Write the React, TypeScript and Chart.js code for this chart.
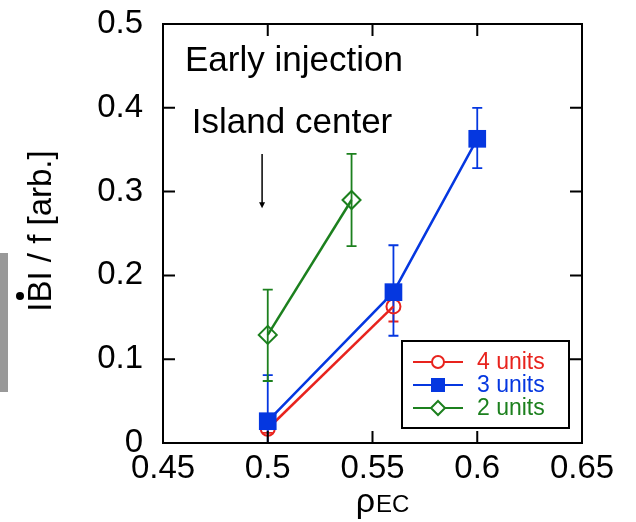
import React, { useEffect, useRef } from "react";
import { Chart, registerables } from "chart.js";

Chart.register(...registerables);

const FONT = "'Liberation Sans', Arial, Helvetica, sans-serif";

const xTicks = [0.45, 0.5, 0.55, 0.6, 0.65];
const yTicks = [0, 0.1, 0.2, 0.3, 0.4, 0.5];

// 4 units (red, open circles)
const rho4 = [0.5, 0.56];
const val4 = [0.017, 0.163];
const lo4 = [0.012, 0.145];
const hi4 = [0.022, 0.181];

// 3 units (blue, filled squares)
const rho3 = [0.5, 0.56, 0.6];
const val3 = [0.026, 0.18, 0.363];
const lo3 = [0.0, 0.128, 0.328];
const hi3 = [0.081, 0.236, 0.4];

// 2 units (green, open diamonds)
const rho2 = [0.5, 0.54];
const val2 = [0.129, 0.29];
const lo2 = [0.074, 0.235];
const hi2 = [0.183, 0.345];

const RED = "#e8231d";
const BLUE = "#0537e0";
const GREEN = "#1c801e";

const seriesLabels = ["4 units", "3 units", "2 units"];
const annotationTexts = ["Early injection", "Island center"];
const annotationPos = [
  { x: 0.5125, y: 0.455 },
  { x: 0.5116, y: 0.381 },
];
const arrowX = 0.4973;
const arrowFrom = 0.345;
const arrowTo = 0.28;

const yTitle = "IBI / f [arb.]";
const xTitleMain = "ρ";
const xTitleSub = "EC";

const toPts = (xs: number[], ys: number[]) => xs.map((x, i) => ({ x, y: ys[i] }));

const errorSets = [
  { xs: rho4, lo: lo4, hi: hi4, color: RED },
  { xs: rho3, lo: lo3, hi: hi3, color: BLUE },
  { xs: rho2, lo: lo2, hi: hi2, color: GREEN },
];

const decoPlugin = {
  id: "deco",
  beforeDatasetsDraw(chart: any) {
    const { ctx, chartArea: a, scales } = chart;
    const xs = scales.x, ys = scales.y;
    ctx.save();
    ctx.beginPath();
    ctx.rect(a.left, a.top, a.right - a.left, a.bottom - a.top);
    ctx.clip();
    errorSets.forEach((s) => {
      ctx.strokeStyle = s.color;
      ctx.lineWidth = 1.8;
      s.xs.forEach((xv, i) => {
        const px = xs.getPixelForValue(xv);
        const pl = ys.getPixelForValue(s.lo[i]);
        const ph = ys.getPixelForValue(s.hi[i]);
        ctx.beginPath();
        ctx.moveTo(px, pl);
        ctx.lineTo(px, ph);
        ctx.moveTo(px - 5, pl);
        ctx.lineTo(px + 5, pl);
        ctx.moveTo(px - 5, ph);
        ctx.lineTo(px + 5, ph);
        ctx.stroke();
      });
    });
    ctx.restore();
  },
  afterDatasetsDraw(chart: any) {
    const { ctx, chartArea: a, scales } = chart;
    const xs = scales.x, ys = scales.y;
    ctx.save();
    ctx.strokeStyle = "#000";
    ctx.lineWidth = 2;
    ctx.strokeRect(a.left, a.top, a.right - a.left, a.bottom - a.top);
    const tl = 12;
    ctx.beginPath();
    xTicks.forEach((v) => {
      const px = xs.getPixelForValue(v);
      ctx.moveTo(px, a.bottom);
      ctx.lineTo(px, a.bottom - tl);
      ctx.moveTo(px, a.top);
      ctx.lineTo(px, a.top + tl);
    });
    yTicks.forEach((v) => {
      const py = ys.getPixelForValue(v);
      ctx.moveTo(a.left, py);
      ctx.lineTo(a.left + tl, py);
      ctx.moveTo(a.right, py);
      ctx.lineTo(a.right - tl, py);
    });
    ctx.stroke();

    ctx.fillStyle = "#000";
    ctx.font = `35px ${FONT}`;
    ctx.textAlign = "center";
    ctx.textBaseline = "middle";
    annotationTexts.forEach((t, i) => {
      ctx.fillText(t, xs.getPixelForValue(annotationPos[i].x), ys.getPixelForValue(annotationPos[i].y));
    });
    const ax = xs.getPixelForValue(arrowX);
    const ay1 = ys.getPixelForValue(arrowFrom);
    const ay2 = ys.getPixelForValue(arrowTo);
    ctx.lineWidth = 1.5;
    ctx.beginPath();
    ctx.moveTo(ax, ay1);
    ctx.lineTo(ax, ay2 - 4);
    ctx.stroke();
    ctx.beginPath();
    ctx.moveTo(ax - 3, ay2 - 6);
    ctx.lineTo(ax + 3, ay2 - 6);
    ctx.lineTo(ax, ay2);
    ctx.closePath();
    ctx.fill();

    const lx = 402, ly = 341, lw = 167, lh = 87;
    ctx.fillStyle = "#fff";
    ctx.fillRect(lx, ly, lw, lh);
    ctx.strokeStyle = "#000";
    ctx.lineWidth = 2;
    ctx.strokeRect(lx, ly, lw, lh);
    const rows = [362, 385, 408];
    const cols = [RED, BLUE, GREEN];
    ctx.font = `23px ${FONT}`;
    ctx.textAlign = "left";
    ctx.textBaseline = "middle";
    rows.forEach((ry, i) => {
      ctx.strokeStyle = cols[i];
      ctx.lineWidth = 2;
      ctx.beginPath();
      ctx.moveTo(413, ry);
      ctx.lineTo(463, ry);
      ctx.stroke();
      const mx = 438;
      if (i === 0) {
        ctx.fillStyle = "#fff";
        ctx.beginPath();
        ctx.arc(mx, ry, 6, 0, Math.PI * 2);
        ctx.fill();
        ctx.stroke();
      } else if (i === 1) {
        ctx.fillStyle = cols[i];
        ctx.fillRect(mx - 7, ry - 7, 14, 14);
      } else {
        ctx.fillStyle = "#fff";
        ctx.beginPath();
        ctx.moveTo(mx, ry - 7);
        ctx.lineTo(mx + 7, ry);
        ctx.lineTo(mx, ry + 7);
        ctx.lineTo(mx - 7, ry);
        ctx.closePath();
        ctx.fill();
        ctx.stroke();
      }
      ctx.fillStyle = cols[i];
      ctx.fillText(seriesLabels[i], 477, ry + 1);
    });

    ctx.fillStyle = "#999";
    ctx.fillRect(0, 253, 8, 139);
    ctx.fillStyle = "#000";
    ctx.save();
    ctx.translate(42, 231);
    ctx.rotate(-Math.PI / 2);
    ctx.font = `33px ${FONT}`;
    ctx.textAlign = "center";
    ctx.textBaseline = "middle";
    ctx.fillText(yTitle, 0, 0);
    ctx.restore();
    ctx.beginPath();
    ctx.arc(20, 296, 4, 0, Math.PI * 2);
    ctx.fill();

    ctx.textAlign = "left";
    ctx.textBaseline = "alphabetic";
    ctx.font = `34px ${FONT}`;
    const w1 = ctx.measureText(xTitleMain).width;
    ctx.font = `24px ${FONT}`;
    const w2 = ctx.measureText(xTitleSub).width;
    const sx = 382 - (w1 + w2) / 2;
    ctx.font = `34px ${FONT}`;
    ctx.fillText(xTitleMain, sx, 512);
    ctx.font = `24px ${FONT}`;
    ctx.fillText(xTitleSub, sx + w1 + 1, 512);
    ctx.restore();
  },
};

export default function App() {
  const ref = useRef<HTMLCanvasElement>(null);
  useEffect(() => {
    const chart = new Chart(ref.current!, {
      type: "scatter",
      data: {
        datasets: [
          {
            label: seriesLabels[2],
            data: toPts(rho2, val2),
            showLine: true,
            borderColor: GREEN,
            backgroundColor: "transparent",
            borderWidth: 2.5,
            pointStyle: "rectRot",
            pointRadius: 9,
            pointBorderWidth: 2,
            pointBorderColor: GREEN,
            pointBackgroundColor: "transparent",
            order: 0,
          },
          {
            label: seriesLabels[1],
            data: toPts(rho3, val3),
            showLine: true,
            borderColor: BLUE,
            backgroundColor: BLUE,
            borderWidth: 2.5,
            pointStyle: "rect",
            pointRadius: 12.5,
            pointBorderWidth: 0,
            pointBackgroundColor: BLUE,
            order: 1,
          },
          {
            label: seriesLabels[0],
            data: toPts(rho4, val4),
            showLine: true,
            borderColor: RED,
            backgroundColor: "transparent",
            borderWidth: 2.5,
            pointStyle: "circle",
            pointRadius: 7,
            pointBorderWidth: 2,
            pointBorderColor: RED,
            pointBackgroundColor: "transparent",
            order: 2,
          },
        ],
      },
      options: {
        animation: false,
        responsive: false,
        events: [],
        layout: { padding: { left: 0, top: 24, right: 54, bottom: 0 } },
        plugins: { legend: { display: false }, tooltip: { enabled: false }, title: { display: false } },
        scales: {
          x: {
            type: "linear",
            min: 0.45,
            max: 0.65,
            grid: { display: false, drawTicks: false },
            border: { display: false },
            afterBuildTicks: (s: any) => {
              s.ticks = xTicks.map((v) => ({ value: v }));
            },
            afterFit: (s: any) => {
              s.height = 79;
              s.paddingLeft = 0;
              s.paddingRight = 0;
            },
            ticks: {
              padding: 6,
              color: "#000",
              font: { family: FONT, size: 33 },
              callback: (v: any) => String(+Number(v).toFixed(2)),
              maxRotation: 0,
              autoSkip: false,
            },
          },
          y: {
            type: "linear",
            min: 0,
            max: 0.5,
            grid: { display: false, drawTicks: false },
            border: { display: false },
            afterBuildTicks: (s: any) => {
              s.ticks = yTicks.map((v) => ({ value: v }));
            },
            afterFit: (s: any) => {
              s.width = 163;
              s.paddingTop = 0;
              s.paddingBottom = 0;
            },
            ticks: {
              padding: 20,
              color: "#000",
              font: { family: FONT, size: 33 },
              callback: (v: any) => String(+Number(v).toFixed(2)),
              autoSkip: false,
            },
          },
        },
      } as any,
      plugins: [decoPlugin],
    });
    return () => chart.destroy();
  }, []);
  return (
    <div style={{ position: "fixed", left: 0, top: 0, width: 636, height: 522, background: "#fff" }}>
      <canvas ref={ref} width={636} height={522} style={{ width: 636, height: 522, display: "block" }} />
    </div>
  );
}
